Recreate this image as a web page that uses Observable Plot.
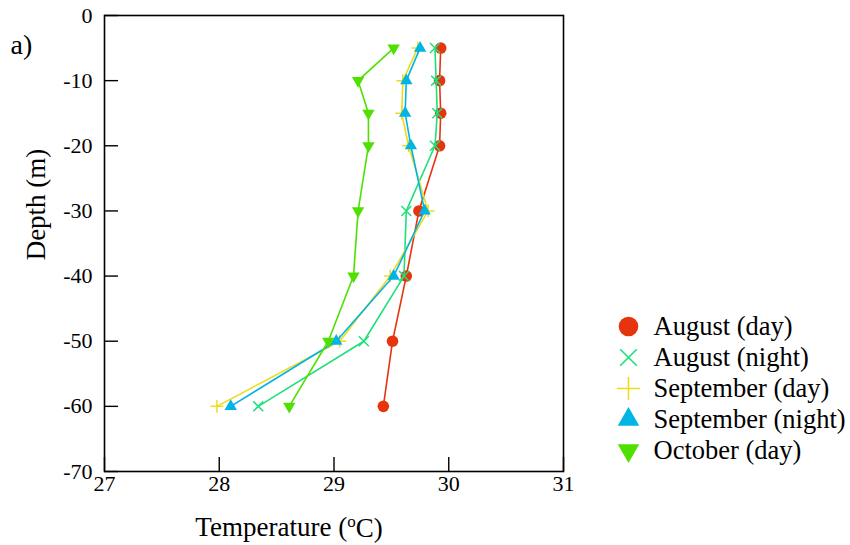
<!DOCTYPE html>
<html>
<head>
<meta charset="utf-8">
<script src="https://cdn.jsdelivr.net/npm/d3@7"></script>
<script src="https://cdn.jsdelivr.net/npm/@observablehq/plot@0.6"></script>
<style>
  html, body { margin: 0; padding: 0; background: #fff; }
  #wrap { position: relative; width: 850px; height: 545px; font-family: "Liberation Serif", serif; }
  #legend { position: absolute; left: 600px; top: 305px; }
  svg, svg text { font-family: "Liberation Serif", serif !important; }
</style>
</head>
<body>
<div id="wrap"><div id="chart"></div><div id="legend"></div></div>
<script>
const depths = [-5, -10, -15, -20, -30, -40, -50, -60];
const seriesNames = ["August (day)", "August (night)", "September (day)", "September (night)", "October (day)"];
const augustDay = [29.93, 29.92, 29.93, 29.92, 29.74, 29.63, 29.51, 29.43];
const augustNight = [29.88, 29.89, 29.90, 29.88, 29.63, 29.61, 29.26, 28.34];
const septemberDay = [29.73, 29.60, 29.59, 29.65, 29.82, 29.49, 29.05, 27.98];
const septemberNight = [29.75, 29.63, 29.62, 29.67, 29.79, 29.52, 29.02, 28.10];
const octoberDay = [29.52, 29.21, 29.30, 29.30, 29.21, 29.17, 28.95, 28.61];
const xTicks = [27, 28, 29, 30, 31];
const yTicks = [0, -10, -20, -30, -40, -50, -60, -70];

const triangleDown = {
  draw(context, size) {
    const y = -Math.sqrt(size / (Math.sqrt(3) * 3));
    context.moveTo(0, -y * 2);
    context.lineTo(-Math.sqrt(3) * y, y);
    context.lineTo(Math.sqrt(3) * y, y);
    context.closePath();
  }
};

const styles = [
  {values: augustDay, color: "#e6340f", symbol: "circle", filled: true, r: 5.8, lr: 9.8},
  {values: augustNight, color: "#1ee07a", symbol: "times", filled: false, r: 4.6, lr: 7.6},
  {values: septemberDay, color: "#f0da1c", symbol: "plus", filled: false, r: 4.2, lr: 7.4},
  {values: septemberNight, color: "#00b4e4", symbol: "triangle", filled: true, r: 4.6, lr: 8.0},
  {values: octoberDay, color: "#4fe000", symbol: triangleDown, filled: true, r: 4.6, lr: 8.0}
];

const marks = [];
styles.forEach((s, i) => {
  const data = depths.map((d, j) => ({depth: d, temp: s.values[j]}));
  marks.push(Plot.line(data, {x: "temp", y: "depth", stroke: s.color, strokeWidth: 1.6}));
  marks.push(Plot.dot(data, {
    x: "temp", y: "depth", symbol: s.symbol, r: s.r,
    fill: s.filled ? s.color : "none",
    stroke: s.filled ? "none" : s.color,
    strokeWidth: 1.5
  }));
});

const chart = Plot.plot({
  width: 850,
  height: 545,
  marginLeft: 104,
  marginRight: 287,
  marginTop: 15,
  marginBottom: 74,
  style: {fontFamily: "Liberation Serif, serif", fontSize: "22px", background: "#fff", color: "#000"},
  x: {domain: [27, 31]},
  y: {domain: [-70, 0]},
  marks: [
    Plot.axisX({ticks: xTicks, tickSize: -14, tickPadding: 18, tickFormat: d => String(d), label: null, strokeWidth: 1.4, fontSize: 22}),
    Plot.axisY({ticks: yTicks, tickSize: -14, tickPadding: 26, tickFormat: d => String(d), label: null, strokeWidth: 1.4, fontSize: 22}),
    ...marks,
    Plot.frame({stroke: "#000", strokeWidth: 1.6}),
    Plot.text(["Depth (m)"], {frameAnchor: "left", dx: -68.5, dy: -39, rotate: -90, textAnchor: "middle", lineAnchor: "middle", fontSize: 27, fill: "#000"}),
    Plot.text(["Temperature (oC)"], {frameAnchor: "bottom", dx: -45, dy: 56, textAnchor: "middle", lineAnchor: "middle", fontSize: 27, fill: "#000"}),
    Plot.text(["a)"], {frameAnchor: "top-left", dx: -94, dy: 30, textAnchor: "start", lineAnchor: "middle", fontSize: 28, fill: "#000"})
  ]
});
document.getElementById("chart").appendChild(chart);

// superscript "o" in the x-axis title
d3.select(chart).selectAll("text").filter(function() { return this.textContent === "Temperature (oC)"; })
  .each(function() {
    const t = d3.select(this);
    t.text(null);
    t.append("tspan").text("Temperature (");
    t.append("tspan").attr("font-size", "17px").attr("dy", "-0.55em").text("o");
    t.append("tspan").attr("dy", "0.36em").text("C)");
  });

const legendMarks = [];
styles.forEach((s, i) => {
  legendMarks.push(Plot.dot([seriesNames[i]], {
    y: d => d, frameAnchor: "left", dx: 28, symbol: s.symbol, r: s.lr,
    fill: s.filled ? s.color : "none",
    stroke: s.filled ? "none" : s.color,
    strokeWidth: 1.6
  }));
});
legendMarks.push(Plot.text(seriesNames, {y: d => d, frameAnchor: "left", dx: 53, textAnchor: "start", lineAnchor: "middle", fontSize: 26.5, fill: "#000"}));

const legend = Plot.plot({
  width: 250,
  height: 170,
  marginLeft: 0,
  marginRight: 0,
  marginTop: 20,
  marginBottom: 24,
  style: {fontFamily: "Liberation Serif, serif", background: "transparent", overflow: "visible"},
  y: {type: "point", domain: seriesNames, padding: 0, axis: null},
  marks: legendMarks
});
document.getElementById("legend").appendChild(legend);
</script>
</body>
</html>
